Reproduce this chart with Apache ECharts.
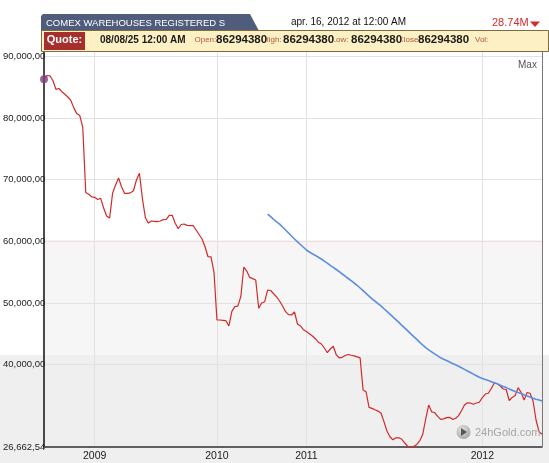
<!DOCTYPE html>
<html><head><meta charset="utf-8">
<script src="https://cdn.jsdelivr.net/npm/echarts@6/dist/echarts.min.js"></script>
<style>html,body{margin:0;padding:0;background:#fff}#c{width:549px;height:463px}</style>
</head><body><div id="c"></div>
<script>
// ---- data (values in millions) ----
const pointCount = 168;
const yearLabels = ['2009', '2010', '2011', '2012'];
const yearIndex = [17, 58, 88, 147];
const yTickValues = [26662540, 40000000, 50000000, 60000000, 70000000, 80000000, 90000000];
const registered = [
  86.29, 86.89, 86.84, 86.03, 84.65, 84.78, 84.26, 83.84, 83.40, 82.85,
  81.64, 80.71, 80.39, 78.49, 67.92, 67.63, 67.22, 67.14, 66.79, 66.98,
  65.41, 64.11, 63.77, 67.79, 69.14, 70.27, 68.86, 67.79, 67.79, 67.86,
  68.21, 69.95, 71.03, 66.95, 63.82, 62.96, 63.30, 63.25, 63.20, 63.30,
  63.53, 63.55, 64.22, 64.22, 62.93, 62.04, 62.73, 62.81, 62.59, 62.54,
  62.54, 61.84, 61.11, 60.38, 59.13, 57.51, 57.50, 55.03, 47.25, 47.25,
  47.20, 47.14, 46.28, 48.66, 49.42, 49.49, 51.03, 55.84, 55.19, 54.16,
  53.96, 53.73, 49.16, 50.01, 50.22, 52.11, 52.03, 51.51, 51.01, 50.33,
  49.52, 48.60, 48.11, 48.06, 48.55, 46.60, 46.28, 45.68, 45.37, 45.01,
  44.66, 44.22, 43.65, 43.36, 42.71, 41.95, 42.55, 43.00, 41.62, 41.12,
  41.20, 41.49, 41.66, 41.54, 41.43, 41.28, 41.12, 35.90, 35.62, 33.08,
  32.92, 32.69, 32.48, 32.17, 30.78, 29.25, 28.33, 27.83, 28.15, 28.15,
  27.91, 27.31, 26.76, 26.6626, 26.76, 27.08, 27.66, 28.69, 31.20, 33.47,
  32.37, 32.25, 31.64, 31.15, 31.23, 31.43, 31.48, 31.15, 31.28, 31.75,
  32.54, 33.47, 33.84, 33.79, 33.60, 33.79, 33.92, 34.68, 35.25, 35.37,
  36.14, 37.04, 36.92, 36.55, 36.06, 35.98, 34.20, 34.70, 35.01, 36.29,
  35.50, 34.28, 35.50, 35.37, 34.12, 31.04, 29.14, 28.74
];
const movingAvgStart = 75;
const movingAvg = [
  64.42, 64.00, 63.58, 63.15, 62.80, 62.33, 61.84, 61.36, 60.87, 60.38,
  59.93, 59.49, 59.04, 58.60, 58.27, 57.98, 57.72, 57.43, 57.14, 56.80,
  56.46, 56.12, 55.78, 55.44, 55.08, 54.71, 54.35, 53.98, 53.62, 53.25,
  52.88, 52.44, 52.00, 51.56, 51.12, 50.69, 50.30, 49.91, 49.54, 49.08,
  48.64, 48.21, 47.75, 47.31, 46.86, 46.39, 45.94, 45.48, 45.01, 44.56,
  44.10, 43.63, 43.20, 42.76, 42.42, 42.09, 41.75, 41.43, 41.12, 40.89,
  40.67, 40.44, 40.21, 39.99, 39.76, 39.50, 39.24, 38.98, 38.74, 38.48,
  38.22, 37.96, 37.78, 37.60, 37.44, 37.26, 37.08, 36.91, 36.69, 36.48,
  36.29, 36.08, 35.88, 35.67, 35.49, 35.32, 35.12, 34.94, 34.75, 34.57,
  34.41, 34.28, 34.12
];
const titleText = 'COMEX WAREHOUSES REGISTERED S';
const dateText = 'apr. 16, 2012 at 12:00 AM';
const lastText = '28.74M';
const quoteDate = '08/08/25 12:00 AM';
const quoteValue = '86294380';
const quoteFields = ['Open:', 'High:', 'Low:', 'Close:', 'Vol:'];

// ---- build ----
const categories = Array.from({length: pointCount}, (_, i) => 'p' + i);
const redData = registered.map(v => Math.round(v * 1e6));
const blueData = categories.map((_, i) => i < movingAvgStart ? null : Math.round(movingAvg[i - movingAvgStart] * 1e6));
const sans = "'Liberation Sans',Arial,sans-serif";
const qbg = '#fcf0c4';
const isYear = i => yearIndex.indexOf(i) >= 0;

function t(x, y, text, fill, font, extra, z) {
  return {type: 'text', x: x, y: y, z: z || 20, style: Object.assign({
    text: text, fill: fill, font: font, verticalAlign: 'middle', textVerticalAlign: 'middle'
  }, extra || {})};
}
const fieldX = [194.5, 263, 331.5, 398, 475];
const valueX = [216, 283, 351, 418];
const quoteTexts = [];
quoteFields.forEach((f, k) => quoteTexts.push(t(fieldX[k], 40, f, '#b4553c', '8px ' + sans)));
valueX.forEach(x => quoteTexts.push(t(x, 40, quoteValue, '#1a1a1a', 'bold 11.5px ' + sans, {backgroundColor: qbg}, 25)));

const chart = echarts.init(document.getElementById('c'), null, {renderer: 'canvas'});
chart.setOption({
  animation: false,
  backgroundColor: '#ffffff',
  grid: {left: 42, right: 7, top: 51, bottom: 16, containLabel: false},
  xAxis: {
    type: 'category', data: categories, boundaryGap: false,
    axisLine: {lineStyle: {color: '#333', width: 1.5}},
    axisTick: {show: false},
    axisLabel: {
      interval: (i) => isYear(i), formatter: (v, i) => yearLabels[yearIndex.indexOf(i)] || '',
      color: '#1a1a1a', fontFamily: sans, fontSize: 10.5, margin: 4
    },
    splitLine: {show: true, interval: (i) => isYear(i), lineStyle: {color: '#e2e2e2', width: 1}}
  },
  yAxis: {
    type: 'value', min: 26662540, max: 90860000,
    axisLine: {show: true, lineStyle: {color: '#111', width: 1.5}},
    axisTick: {show: false, customValues: yTickValues},
    axisLabel: {
      customValues: yTickValues,
      // the original chart clips its labels at the axis line: keep the first 9 characters
      formatter: v => Number(v).toLocaleString('en-US').slice(0, 9),
      align: 'left', margin: 41,
      color: '#222', fontFamily: sans, fontSize: 9.5
    },
    splitLine: {show: true, lineStyle: {color: '#e2e2e2', width: 1}}
  },
  series: [
    {type: 'line', data: redData, showSymbol: false, symbol: 'none',
     lineStyle: {color: '#d22a2a', width: 1.2}, z: 3},
    {type: 'line', data: blueData, showSymbol: false, symbol: 'none',
     lineStyle: {color: '#5b8de0', width: 1.6}, z: 4},
    {type: 'scatter', data: [[categories[0], redData[0]]], symbolSize: 8, clip: false,
     itemStyle: {color: '#7d3f80'}, z: 5}
  ],
  graphic: [
    {type: 'rect', z: -10, shape: {x: 0, y: 355, width: 549, height: 108}, style: {fill: '#efefef'}},
    {type: 'rect', z: -10, shape: {x: 42, y: 248, width: 500, height: 107}, style: {fill: '#f6f6f6'}},
    {type: 'rect', z: -10, shape: {x: 42, y: 240, width: 500, height: 8}, style: {fill: '#fbf3f3'}},
    {type: 'line', z: 10, shape: {x1: 542.5, y1: 51, x2: 542.5, y2: 447}, style: {stroke: '#777', lineWidth: 1}},
    // header tab
    {type: 'polygon', z: 10, shape: {points: [[41, 31], [41, 16], [43, 14], [250, 14], [259, 31]]},
     style: {fill: '#4f5c7c'}},
    t(46, 23, titleText, '#ffffff', '9.5px ' + sans),
    t(291, 22.5, dateText, '#111', '10px ' + sans),
    t(492, 22.5, lastText, '#d62b2b', '11px ' + sans),
    {type: 'polygon', z: 20, shape: {points: [[530, 21.5], [540, 21.5], [535, 27]]}, style: {fill: '#d62b2b'}},
    // quote bar
    {type: 'rect', z: 10, shape: {x: 41.5, y: 30.5, width: 507, height: 21},
     style: {fill: qbg, stroke: '#7d6d3c', lineWidth: 1}},
    {type: 'rect', z: 15, shape: {x: 44, y: 32, width: 41, height: 18}, style: {fill: '#a62e2c'}},
    t(64.5, 40, 'Quote:', '#fff', 'bold 11px ' + sans, {align: 'center', textAlign: 'center'}),
    t(100, 40, quoteDate, '#1a1a1a', 'bold 10px ' + sans),
    ...quoteTexts,
    // Max
    t(518, 65, 'Max', '#555', '10px ' + sans),
    // watermark
    {type: 'circle', z: 8, shape: {cx: 463.5, cy: 432, r: 7},
     style: {fill: new echarts.graphic.RadialGradient(0.4, 0.35, 0.8, [{offset: 0, color: '#e6e6e6'}, {offset: 1, color: '#9a9a9a'}])}},
    {type: 'polygon', z: 9, shape: {points: [[461, 428], [461, 436], [467, 432]]}, style: {fill: '#555'}},
    t(475, 432.5, '24hGold.com', '#a6a6a6', '11px ' + sans)
  ]
});
</script></body></html>
